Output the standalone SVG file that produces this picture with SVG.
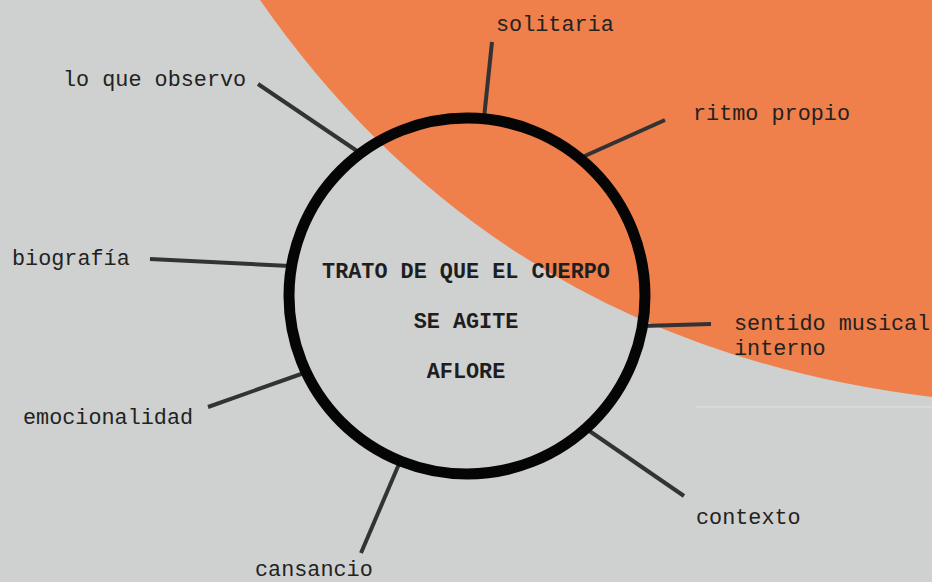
<svg xmlns="http://www.w3.org/2000/svg" width="932" height="582" viewBox="0 0 932 582">
<style>
.lbl{font-family:"Liberation Mono","DejaVu Sans Mono",monospace;font-size:21.8px;fill:#222}
.ctr{font-family:"Liberation Mono","DejaVu Sans Mono",monospace;font-size:21.8px;font-weight:bold;fill:#1e1e1e;text-anchor:middle}
.con line{stroke:#333;stroke-width:4}
</style>
<rect width="932" height="582" fill="#CFD1D0"/>
<path d="M260,0 Q500,345 932,397 L932,0 Z" fill="#EF7F4B"/>
<line x1="696" y1="407" x2="932" y2="407" stroke="#e2e3e2" stroke-width="1"/>
<g id="connectors" class="con">
<line x1="492" y1="42" x2="484" y2="118"/>
<line x1="665" y1="120" x2="578" y2="159"/>
<line x1="258" y1="84" x2="360" y2="153"/>
<line x1="150" y1="259" x2="290" y2="266"/>
<line x1="642" y1="326" x2="711" y2="324"/>
<line x1="208" y1="407" x2="304" y2="373"/>
<line x1="361" y1="553" x2="399" y2="464"/>
<line x1="588" y1="430" x2="684" y2="496"/>
</g>
<g id="center">
<circle cx="467" cy="296" r="178" fill="none" stroke="#050505" stroke-width="11"/>
<text class="ctr" x="466" y="278">TRATO DE QUE EL CUERPO</text>
<text class="ctr" x="466" y="328">SE AGITE</text>
<text class="ctr" x="466" y="378">AFLORE</text>
</g>
<g id="solitaria"><text class="lbl" x="496" y="31">solitaria</text></g>
<g id="ritmo"><text class="lbl" x="693" y="120">ritmo propio</text></g>
<g id="observo"><text class="lbl" x="63" y="86">lo que observo</text></g>
<g id="biografia"><text class="lbl" x="12" y="265">biografía</text></g>
<g id="sentido"><text class="lbl" x="734" y="330">sentido musical</text><text class="lbl" x="734" y="355">interno</text></g>
<g id="emocionalidad"><text class="lbl" x="23" y="424">emocionalidad</text></g>
<g id="contexto"><text class="lbl" x="696" y="524">contexto</text></g>
<g id="cansancio"><text class="lbl" x="255" y="576">cansancio</text></g>
</svg>
